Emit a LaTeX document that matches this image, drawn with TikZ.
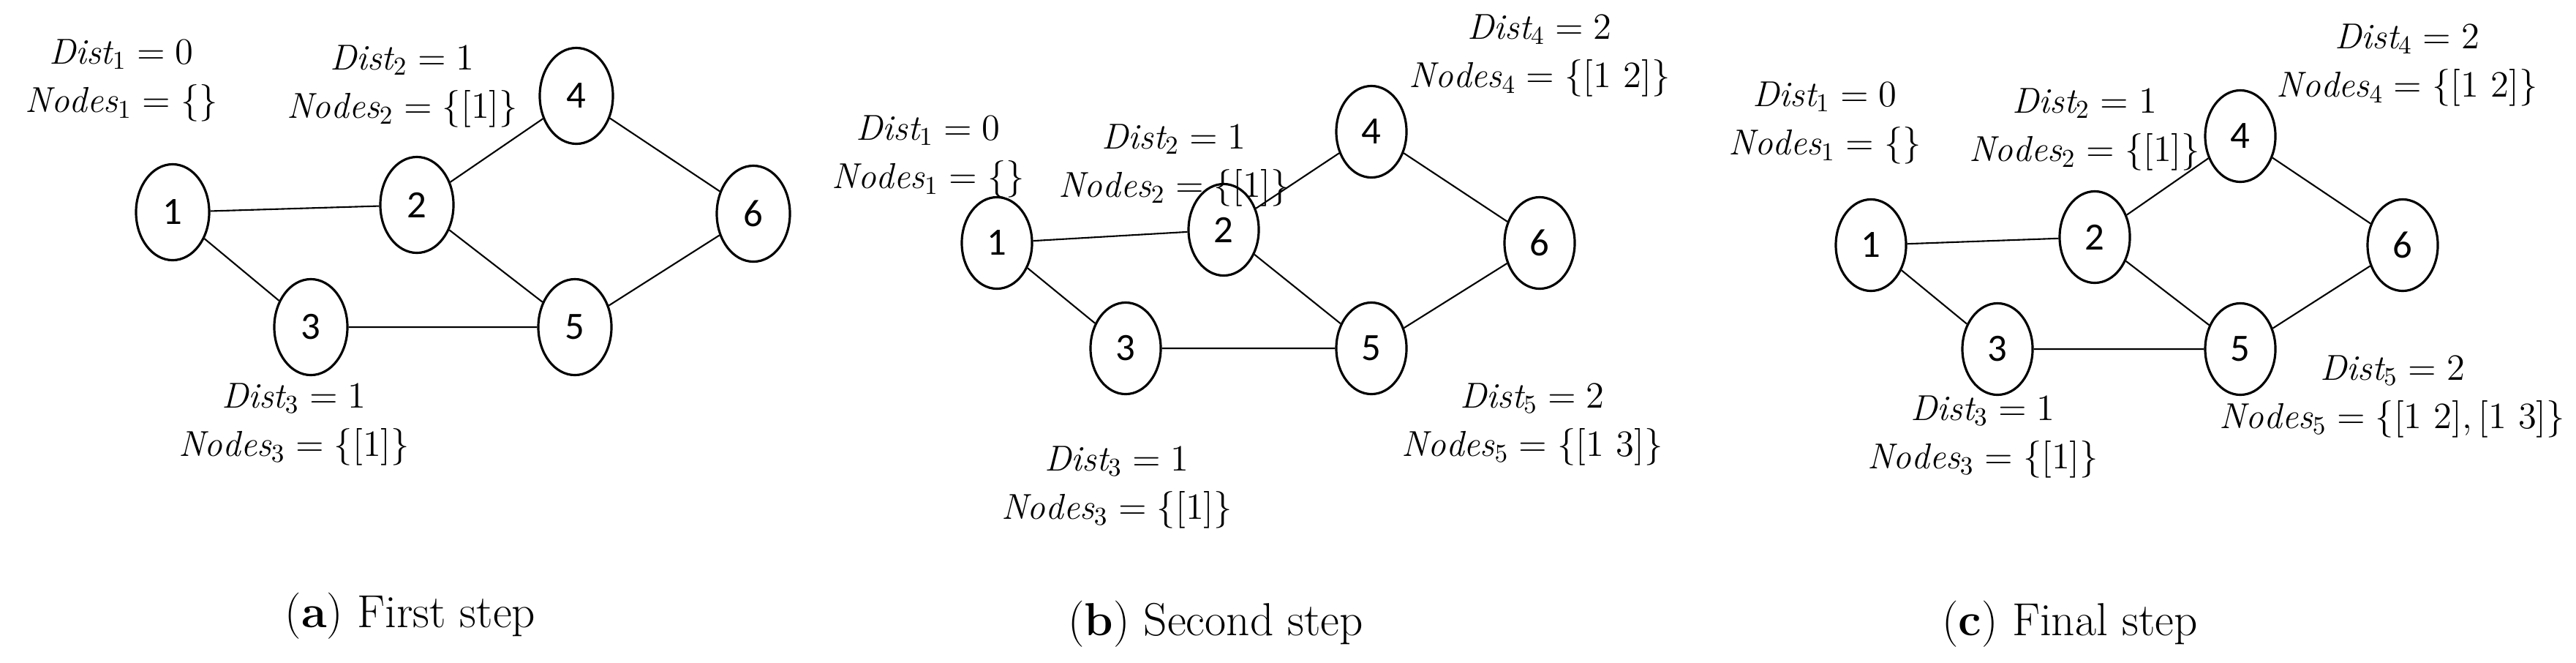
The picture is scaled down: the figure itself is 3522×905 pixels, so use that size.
\documentclass[tikz,border=0pt]{standalone}
\usepackage{fontspec}
\newfontfamily\nodefont{Carlito}
\usetikzlibrary{shapes.geometric}
\begin{document}
\begin{tikzpicture}[x=0.01cm,y=-0.01cm,
  va/.style={ellipse,draw,line width=0.9pt,inner sep=0pt,minimum width=1.0cm,minimum height=1.31cm,font=\nodefont\fontsize{15}{18}\selectfont},
  vb/.style={va,minimum width=0.96cm,minimum height=1.25cm},
  lbl/.style={align=center,font=\fontsize{14}{17}\selectfont,inner sep=0pt},
  captxt/.style={font=\fontsize{18}{22}\selectfont},
  e/.style={line width=0.6pt}]
\useasboundingbox (0,0) rectangle (3522,905);
% panel a
\node[va] (a1) at (236,290) {1};
\node[va] (a2) at (570,280) {2};
\node[va] (a3) at (425,447) {3};
\node[va] (a4) at (788,131) {4};
\node[va] (a5) at (786,447) {5};
\node[va] (a6) at (1030,292) {6};
\draw[e] (a1)--(a2) (a1)--(a3) (a3)--(a5) (a2)--(a4) (a2)--(a5) (a4)--(a6) (a5)--(a6);
\node[lbl] (la1) at (166,110) {$\mathit{Dist}_1=0$\\[2pt]$\mathit{Nodes}_1=\{\}$};
\node[lbl] (la2) at (550,118) {$\mathit{Dist}_2=1$\\[2pt]$\mathit{Nodes}_2=\{[1]\}$};
\node[lbl] (la3) at (402,580) {$\mathit{Dist}_3=1$\\[2pt]$\mathit{Nodes}_3=\{[1]\}$};
\node[captxt] (ca) at (561,842) {(\textbf{a}) First step};
% panel b
\node[vb] (b1) at (1363,332) {1};
\node[vb] (b2) at (1673,314) {2};
\node[vb] (b3) at (1539,476) {3};
\node[vb] (b4) at (1875,180) {4};
\node[vb] (b5) at (1875,476) {5};
\node[vb] (b6) at (2105,332) {6};
\draw[e] (b1)--(b2) (b1)--(b3) (b3)--(b5) (b2)--(b4) (b2)--(b5) (b4)--(b6) (b5)--(b6);
\node[lbl] (lb1) at (1269,214) {$\mathit{Dist}_1=0$\\[2pt]$\mathit{Nodes}_1=\{\}$};
\node[lbl] (lb2) at (1605,226) {$\mathit{Dist}_2=1$\\[2pt]$\mathit{Nodes}_2=\{[1]\}$};
\node[lbl] (lb4) at (2105,76) {$\mathit{Dist}_4=2$\\[2pt]$\mathit{Nodes}_4=\{[1\ 2]\}$};
\node[lbl] (lb5) at (2095,580) {$\mathit{Dist}_5=2$\\[2pt]$\mathit{Nodes}_5=\{[1\ 3]\}$};
\node[lbl] (lb3) at (1527,666) {$\mathit{Dist}_3=1$\\[2pt]$\mathit{Nodes}_3=\{[1]\}$};
\node[captxt] (cb) at (1662,853) {(\textbf{b}) Second step};
% panel c
\node[vb] (c1) at (2558,335) {1};
\node[vb] (c2) at (2864,324) {2};
\node[vb] (c3) at (2731,477) {3};
\node[vb] (c4) at (3063,186) {4};
\node[vb] (c5) at (3063,477) {5};
\node[vb] (c6) at (3285,335) {6};
\draw[e] (c1)--(c2) (c1)--(c3) (c3)--(c5) (c2)--(c4) (c2)--(c5) (c4)--(c6) (c5)--(c6);
\node[lbl] (lc1) at (2495,168) {$\mathit{Dist}_1=0$\\[2pt]$\mathit{Nodes}_1=\{\}$};
\node[lbl] (lc2) at (2850,177) {$\mathit{Dist}_2=1$\\[2pt]$\mathit{Nodes}_2=\{[1]\}$};
\node[lbl] (lc4) at (3291,89) {$\mathit{Dist}_4=2$\\[2pt]$\mathit{Nodes}_4=\{[1\ 2]\}$};
\node[lbl] (lc5) at (3271,542) {$\mathit{Dist}_5=2$\\[2pt]$\mathit{Nodes}_5=\{[1\ 2],[1\ 3]\}$};
\node[lbl] (lc3) at (2711,597) {$\mathit{Dist}_3=1$\\[2pt]$\mathit{Nodes}_3=\{[1]\}$};
\node[captxt] (cc) at (2830,853) {(\textbf{c}) Final step};
\end{tikzpicture}
\end{document}
